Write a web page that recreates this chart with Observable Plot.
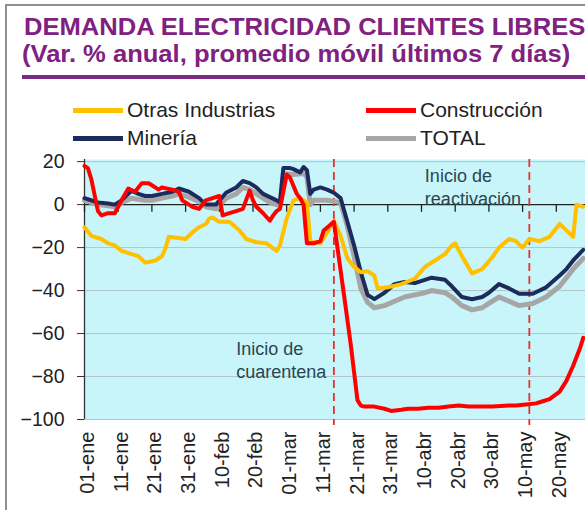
<!DOCTYPE html>
<html><head><meta charset="utf-8">
<script src="https://cdn.jsdelivr.net/npm/d3@7"></script>
<script src="https://cdn.jsdelivr.net/npm/@observablehq/plot@0.6"></script>
<style>
body{margin:0;background:#fff;font-family:"Liberation Sans",Arial,sans-serif;}
#wrap{position:relative;width:585px;height:510px;overflow:hidden;background:#fff;}
.abs{position:absolute;white-space:nowrap;}
.title{font-weight:bold;font-size:24px;line-height:24px;color:#80207f;transform:scaleX(1.065);transform-origin:0 0;}
.leg{font-size:21px;line-height:21px;color:#222;}
.sw{height:5px;width:50px;}
#chart{position:absolute;left:0;top:150px;}
</style></head><body>
<div id="wrap">
  <div class="abs" style="left:5px;top:4px;width:580px;height:2px;background:#8f8f8f"></div>
  <div class="abs" style="left:5px;top:4px;width:2px;height:506px;background:#8f8f8f"></div>
  <div class="abs title" style="left:24px;top:15px">DEMANDA ELECTRICIDAD CLIENTES LIBRES</div>
  <div class="abs title" style="left:22px;top:42px">(Var. % anual, promedio móvil últimos 7 días)</div>
  <div class="abs" style="left:22px;top:75px;width:563px;height:4px;background:#7b2a84"></div>
  <div id="legend"></div>
  <div id="chart"></div>
</div>
<script>
// ---- data ----
const seriesNames = ["Otras Industrias", "Construcción", "Minería", "TOTAL"];
const seriesColors = ["#ffc000", "#ff0000", "#1c2a5c", "#a6a6a6"];

const otrasIndustrias = [
  ["01-01",-10.5],["01-03",-14.5],["01-06",-16],["01-08",-18],["01-10",-19],["01-12",-21.5],
  ["01-15",-23],["01-17",-24],["01-19",-27],["01-22",-26],["01-24",-24],["01-25",-20.5],
  ["01-26",-15],["01-29",-15.5],["01-31",-16],["02-02",-13],["02-04",-10.5],["02-06",-9],
  ["02-07",-6.5],["02-08",-6],["02-10",-8],["02-13",-8],["02-16",-12],["02-18",-16],
  ["02-21",-17.5],["02-24",-18],["02-27",-21.5],["02-28",-19],["03-01",-6.5],["03-03",2],
  ["03-05",3],["03-07",1],["03-08",-17],["03-11",-18],["03-13",-13],["03-15",-7.5],
  ["03-17",-14.5],["03-19",-25],["03-21",-29],["03-23",-31.5],["03-25",-31],["03-27",-33],
  ["03-28",-39],["03-31",-38.5],["04-04",-37],["04-08",-34.5],["04-11",-29],["04-14",-26],
  ["04-17",-23],["04-19",-19],["04-20",-18],["04-22",-24],["04-25",-32],["04-28",-30],
  ["05-01",-24.5],["05-03",-20],["05-06",-16],["05-08",-17],["05-10",-20],["05-12",-16],
  ["05-15",-17],["05-18",-15],["05-21",-9],["05-23",-12],["05-25",-15],["05-26",0],["05-28",-1]
];
const construccion = [
  ["01-01",18],["01-02",17],["01-03",12],["01-05",-3],["01-06",-5],["01-08",-4],["01-10",-4],
  ["01-12",2],["01-14",7.5],["01-16",6],["01-18",10],["01-20",10],["01-21",9],["01-23",7],
  ["01-24",8],["01-27",7],["01-29",6],["01-30",2],["02-01",0],["02-02",-1],["02-04",-2],
  ["02-06",2],["02-08",3],["02-10",4],["02-11",-5],["02-13",-4],["02-15",-3],["02-17",-2],
  ["02-19",6.5],["02-20",2],["02-21",-1],["02-23",-4],["02-25",-7.5],["02-26",-5],["02-27",-3],
  ["02-28",-2],["03-01",14],["03-02",12.5],["03-04",5],["03-05",3],["03-06",0],["03-07",-18],
  ["03-09",-18],["03-11",-17],["03-12",-12],["03-15",-8],["03-18",-42],["03-20",-65],
  ["03-22",-91],["03-23",-93.5],["03-24",-94],["03-27",-94],["03-30",-95],["04-01",-96],
  ["04-04",-95.5],["04-06",-95],["04-09",-95],["04-12",-94.5],["04-15",-94.5],["04-18",-94],
  ["04-21",-93.5],["04-24",-94],["04-28",-94],["05-01",-94],["05-06",-93.5],["05-08",-93.5],
  ["05-11",-93],["05-14",-92.5],["05-16",-91.5],["05-18",-90.5],["05-21",-87],["05-23",-82],
  ["05-25",-75],["05-27",-67],["05-28",-62]
];
const mineria = [
  ["01-01",3],["01-05",1],["01-08",0.5],["01-10",0],["01-12",2],["01-15",6.5],["01-17",5],
  ["01-19",4],["01-21",4],["01-24",5],["01-27",6],["01-29",7.5],["02-01",6],["02-04",3],
  ["02-06",0],["02-09",0],["02-12",5.5],["02-15",8],["02-17",11],["02-19",10],["02-21",8],
  ["02-23",5],["02-25",3.5],["02-27",2],["02-28",1],["02-29",17],["03-02",17],["03-03",16.5],
  ["03-05",15],["03-06",17.5],["03-07",16],["03-08",5],["03-09",7],["03-11",8],["03-13",7],
  ["03-15",5.5],["03-17",3],["03-19",-8],["03-21",-19],["03-23",-31.5],["03-25",-42],
  ["03-27",-44],["03-30",-41],["04-02",-37],["04-05",-36],["04-08",-36.5],["04-11",-35],
  ["04-13",-34],["04-17",-35],["04-19",-38],["04-22",-43],["04-25",-44],["04-28",-43],
  ["04-30",-41],["05-03",-37],["05-06",-39],["05-09",-41.5],["05-13",-41.5],["05-17",-38.5],
  ["05-21",-33],["05-23",-30],["05-25",-26],["05-28",-21]
];
const total = [
  ["01-01",2],["01-05",0],["01-08",-0.5],["01-10",-1],["01-12",1],["01-15",3],["01-17",2.5],
  ["01-19",2],["01-21",2],["01-24",3],["01-27",4],["01-29",5],["02-01",3.5],["02-04",1.5],
  ["02-06",-1],["02-09",-2],["02-12",3],["02-15",5],["02-17",8],["02-19",7],["02-21",5],
  ["02-23",3],["02-25",1],["02-27",0],["02-28",-0.5],["02-29",14.5],["03-03",14],["03-06",14.5],
  ["03-07",13],["03-08",0],["03-09",2],["03-11",2],["03-13",2],["03-15",1.5],["03-17",1],
  ["03-19",-10],["03-21",-24],["03-23",-39],["03-25",-45.5],["03-27",-48],["03-30",-47],
  ["04-02",-45],["04-05",-43],["04-08",-42],["04-11",-41],["04-13",-40],["04-17",-41],
  ["04-19",-43],["04-22",-47],["04-25",-49],["04-28",-48],["04-30",-46],["05-03",-43],
  ["05-06",-45],["05-09",-47],["05-13",-46],["05-17",-43],["05-21",-38],["05-23",-34],
  ["05-25",-30],["05-28",-25]
];

const xTickDates = ["01-01","01-11","01-21","01-31","02-10","02-20","03-01","03-11","03-21","03-31","04-10","04-20","04-30","05-10","05-20"];
const xTickLabels = ["01-ene","11-ene","21-ene","31-ene","10-feb","20-feb","01-mar","11-mar","21-mar","31-mar","10-abr","20-abr","30-abr","10-may","20-may"];
const yTicks = [20, 0, -20, -40, -60, -80, -100];

const eventDates = ["03-15", "05-12"];
const annotTexts = ["Inicio de\ncuarentena", "Inicio de\nreactivación"];
const annotDates = ["02-15", "04-11"];
const annotValues = [-72, 8.8];

// ---- build ----
const parse = s => new Date(`2020-${s}T00:00:00Z`);
const seriesData = [otrasIndustrias, construccion, mineria, total];
const rows = seriesData.map((pts, i) => pts.map(([d, v]) => ({serie: seriesNames[i], fecha: parse(d), valor: v})));
const drawOrder = [3, 2, 0, 1];
const widths = [4, 4, 4, 5];

const annots = annotTexts.map((t, i) => ({t, fecha: parse(annotDates[i]), valor: annotValues[i]}));
const ticks = xTickDates.map((d, i) => ({fecha: parse(d), label: xTickLabels[i]}));

const chart = Plot.plot({
  width: 585, height: 360,
  marginLeft: 84, marginRight: 0, marginTop: 9, marginBottom: 91,
  style: {fontFamily: "'Liberation Sans', Arial, sans-serif", background: "transparent", overflow: "visible"},
  x: {type: "utc", domain: [parse("01-01"), new Date(Date.UTC(2020, 4, 28, 16))], axis: null},
  y: {domain: [-100, 21], axis: null},
  marks: [
    Plot.frame({fill: "#c8f5fa", stroke: null}),
    Plot.gridY(yTicks.filter(v => v !== 0), {stroke: "#b3c5c8", strokeOpacity: 1, strokeWidth: 1}),
    Plot.axisY({ticks: yTicks, label: null, tickSize: 7, tickPadding: 13, fontSize: 19.5, color: "#222", stroke: "#333"}),
    Plot.ruleX([parse("01-01")], {stroke: "#333", strokeWidth: 1.3}),
    Plot.ruleY([0], {stroke: "#222", strokeWidth: 1.3}),
    Plot.ruleX(ticks, {x: "fecha", y1: 0, y2: -3.6, stroke: "#222", strokeWidth: 1.3}),
    Plot.text(ticks, {x: "fecha", text: "label", frameAnchor: "bottom", rotate: -90, textAnchor: "end", lineAnchor: "middle", dy: 12, dx: 3, fontSize: 20, fill: "#222"}),
    Plot.ruleX(eventDates.map(parse), {stroke: "#e8302b", strokeWidth: 1.8, strokeDasharray: "8,5", insetBottom: -6}),
    ...drawOrder.map(i => Plot.line(rows[i], {x: "fecha", y: "valor", stroke: seriesColors[i], strokeWidth: widths[i], strokeLinejoin: "round", curve: "linear"})),
    Plot.text(annots, {x: "fecha", y: "valor", text: "t", textAnchor: "start", lineAnchor: "middle", lineHeight: 1.28, fontSize: 18, fill: "#2a4651"})
  ]
});
document.getElementById("chart").appendChild(chart);

// ---- legend (HTML) ----
const legPos = [[73, 110], [366, 110], [73, 138], [366, 138]];
const leg = document.getElementById("legend");
seriesNames.forEach((name, i) => {
  const [lx, cy] = legPos[i];
  const sw = document.createElement("div");
  sw.className = "abs sw";
  sw.style.left = lx + "px";
  sw.style.top = (cy - 2.5) + "px";
  sw.style.background = seriesColors[i];
  leg.appendChild(sw);
  const tx = document.createElement("div");
  tx.className = "abs leg";
  tx.style.left = (lx + 54) + "px";
  tx.style.top = (cy + 7 - 17.8) + "px";
  tx.textContent = name;
  leg.appendChild(tx);
});
</script>
</body></html>
